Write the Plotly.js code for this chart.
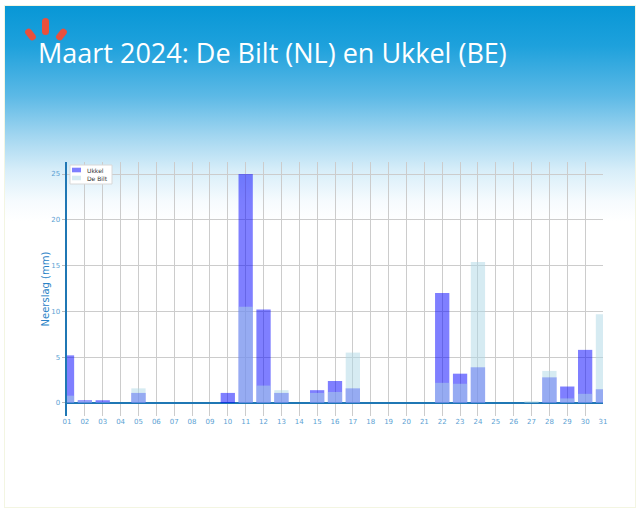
<!DOCTYPE html>
<html>
<head>
<meta charset="utf-8">
<script src="https://cdn.plot.ly/plotly-3.0.1.min.js"></script>
<style>
  html, body { margin:0; padding:0; width:640px; height:514px; background:#ffffff; overflow:hidden; }
  #card { position:absolute; left:4px; top:5px; width:630px; height:501px;
          border:1px solid #f3f5e2;
          background: linear-gradient(to bottom, #0897d6 0px, #1ea1dc 40px, #5cb9e6 90px, #a2d6f0 130px, #d8eef9 165px, #f6fbfe 195px, #ffffff 215px, #ffffff 100%); }
  .mark { position:absolute; background:#e9503c; border-radius:4px; }
  #chart { position:absolute; left:0; top:0; width:640px; height:514px; }
</style>
</head>
<body>
<div id="card"></div>
<div class="mark" style="left:26.5px; top:27.5px; width:7px; height:13px; transform:rotate(-38deg);"></div>
<div class="mark" style="left:42px; top:18px; width:7px; height:17px;"></div>
<div class="mark" style="left:58px; top:27.5px; width:7px; height:13px; transform:rotate(38deg);"></div>
<div id="chart"></div>
<script>
const days = ["01","02","03","04","05","06","07","08","09","10","11","12","13","14","15","16","17","18","19","20","21","22","23","24","25","26","27","28","29","30","31"];
const ukkel = [5.2,0.3,0.3,0,1.1,0,0,0,0,1.1,25.0,10.2,1.1,0,1.4,2.4,1.6,0,0,0,0,12.0,3.2,3.9,0,0,0,2.8,1.8,5.8,1.5];
const deBilt = [0.8,0.2,0.1,0,1.6,0,0,0,0,0,10.5,1.9,1.4,0,1.1,1.2,5.5,0,0,0,0,2.2,2.1,15.4,0,0,0.2,3.5,0.5,1.0,9.7];
const yTicks = [0,5,10,15,20,25];
const seriesNames = ["Ukkel","De Bilt"];
const seriesColors = ["rgba(0,0,255,0.5)","rgba(173,216,230,0.5)"];
const titleText = "Maart 2024: De Bilt (NL) en Ukkel (BE)";

const tickFont = {family:"DejaVu Sans", size:7, color:"#5c9fd3"};

const traces = [
  {type:"bar", name:seriesNames[0], x:days, y:ukkel, width:0.8,
   marker:{color:seriesColors[0], line:{width:0}}, hoverinfo:"skip"},
  {type:"bar", name:seriesNames[1], x:days, y:deBilt, width:0.8,
   marker:{color:seriesColors[1], line:{width:0}}, hoverinfo:"skip"}
];

// compact legend built from shapes + annotations (paper coords of plot area)
const L = 67, R = 603, T = 162, B = 416;
const px = v => (v - L) / (R - L);
const py = v => (B - v) / (B - T);
const shapes = [
  {type:"rect", xref:"paper", yref:"paper", x0:px(70), x1:px(112), y0:py(184), y1:py(165),
   fillcolor:"#ffffff", line:{color:"#d8d8d8", width:1}, layer:"above"}
];
const annotations = [];
seriesNames.forEach((n, i) => {
  const cy = 170 + i * 8;
  shapes.push({type:"rect", xref:"paper", yref:"paper", x0:px(72), x1:px(81), y0:py(cy + 2.3), y1:py(cy - 2.3),
               fillcolor:seriesColors[i], line:{width:0}, layer:"above"});
  annotations.push({xref:"paper", yref:"paper", x:px(85), y:py(cy), xanchor:"left", yanchor:"middle",
                    text:n, showarrow:false, font:{family:"DejaVu Sans", size:6, color:"#333333"}});
});

const layout = {
  width:640, height:514,
  paper_bgcolor:"rgba(0,0,0,0)", plot_bgcolor:"rgba(0,0,0,0)",
  margin:{l:L, r:640 - R, t:T, b:514 - B, pad:0},
  barmode:"overlay",
  showlegend:false,
  shapes:shapes, annotations:annotations,
  title:{text:titleText, xref:"container", yref:"container", x:38/640, xanchor:"left",
         y:1-54/514, yanchor:"middle",
         font:{family:"Open Sans", size:27, color:"#ffffff"}},
  xaxis:{type:"category", range:[0,30], tickmode:"array", tickvals:days, ticktext:days,
         showgrid:true, gridcolor:"#cccccc", gridwidth:1, showline:false, zeroline:false,
         ticks:"", ticklen:0, tickfont:tickFont, fixedrange:true, automargin:false},
  yaxis:{range:[-1.42,26.31], tickmode:"array", tickvals:yTicks, ticktext:yTicks.map(String),
         showgrid:true, gridcolor:"#cccccc", gridwidth:1,
         zeroline:true, zerolinecolor:"#1f77b4", zerolinewidth:2.5,
         showline:true, linecolor:"#1f77b4", linewidth:2.5, layer:"above traces",
         ticks:"outside", ticklen:3, tickcolor:"#bbbbbb", tickfont:tickFont,
         title:{text:"Neerslag (mm)", font:{family:"DejaVu Sans", size:10, color:"#2a82c6"}, standoff:0},
         automargin:false, fixedrange:true}
};

Plotly.newPlot("chart", traces, layout, {displayModeBar:false, staticPlot:true});
</script>
</body>
</html>
